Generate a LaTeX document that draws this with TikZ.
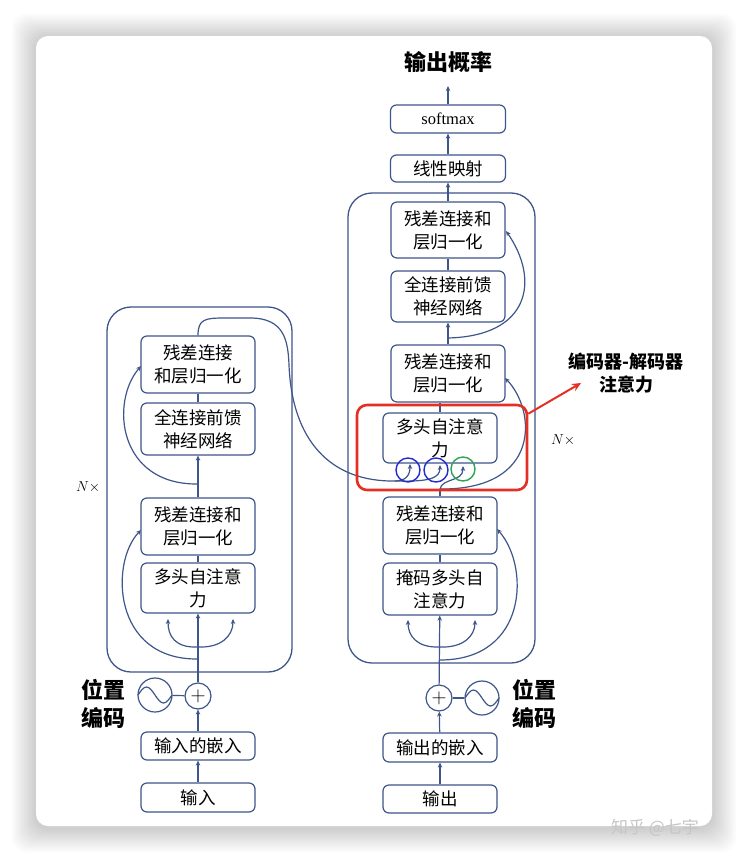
\documentclass[tikz,border=0pt]{standalone}
\usepackage{fontspec}
\setmainfont{Liberation Serif}
\newfontfamily\cjk{Noto Sans CJK SC}
\usetikzlibrary{positioning,calc,arrows.meta}
\definecolor{linec}{RGB}{62,86,138}
\definecolor{qkc}{RGB}{35,45,205}
\definecolor{vc}{RGB}{45,165,85}
\definecolor{redc}{RGB}{228,48,36}
\tikzset{blk/.style={draw=linec,line width=1.2pt,rounded corners=6pt,fill=white,
            minimum width=114pt,align=center,inner sep=0pt,
            font=\cjk\fontsize{17.5}{23}\selectfont},
         conn/.style={draw=linec,line width=1.2pt},
         arr/.style={conn,-{Stealth[length=5pt,width=4.5pt]}},
         stack/.style={draw=linec,line width=1.3pt,rounded corners=24pt},
         ring/.style={circle,draw=linec,line width=1.2pt,fill=white,inner sep=0pt},
         head/.style={circle,line width=1.4pt,minimum size=24pt,inner sep=0pt},
         biglbl/.style={font=\cjk\bfseries\fontsize{22}{28}\selectfont,align=center}
        }

\begin{document}
\begin{tikzpicture}[x=1pt,y=-1pt]
      \useasboundingbox (0,0) rectangle (748,862);
      % 背景
      \fill[white] (0,0) rectangle (748,862);
      \foreach \s in {1,...,12}
        \fill[black,opacity=0.015,rounded corners=14pt] (36-2*\s,36-2*\s+2) rectangle (712+2*\s,826+2*\s+2);
      \fill[white,rounded corners=12pt] (36,36) rectangle (712,826);

      % 外枠
      \node[stack,minimum width=185pt,minimum height=365pt] (enc) at (199.5,489.5) {};
      \node[stack,minimum width=187pt,minimum height=470pt] (dec) at (441.5,428) {};

      % エンコーダ
      \node[blk,minimum height=57pt] (etop) at (198,364.5) {残差连接\\和层归一化};
      \node[blk,minimum height=52pt] (effn) at (198,429) {全连接前馈\\神经网络};
      \node[blk,minimum height=57pt] (eres) at (198,526.5) {残差连接和\\层归一化};
      \node[blk,minimum height=50pt] (emha) at (198,588) {多头自注意\\力};
      \node[blk,minimum height=28pt] (eemb) at (198,746) {输入的嵌入};
      \node[blk,minimum height=29pt] (ein) at (198,797.5) {输入};
      \node[ring,minimum size=26pt] (eplus) at (198,696) {\fontsize{20}{20}\selectfont$+$};
      \node[ring,minimum size=34pt] (esin) at (155,695) {};
      \node[biglbl] (epos) at (103,704) {位置\\编码};
      \node[font=\fontsize{15}{15}\selectfont] (encn) at (88,487) {$N\times$};

      % デコーダ
      \node[blk,minimum height=56pt] (dtop) at (448,230) {残差连接和\\层归一化};
      \node[blk,minimum height=51pt] (dffn) at (448,296.5) {全连接前馈\\神经网络};
      \node[blk,minimum height=57pt] (dmid) at (448,373.5) {残差连接和\\层归一化};
      \node[blk,minimum height=50pt] (dcross) at (440,438) {多头自注意\\力};
      \node[blk,minimum height=57pt] (dres) at (440,525.5) {残差连接和\\层归一化};
      \node[blk,minimum height=52pt] (dmha) at (440,589) {掩码多头自\\注意力};
      \node[blk,minimum height=29pt] (demb) at (440,747.5) {输出的嵌入};
      \node[blk,minimum height=28pt] (dout) at (440,799) {输出};
      \node[blk,minimum height=27pt,minimum width=115pt] (dlin) at (448,168.5) {线性映射};
      \node[blk,minimum height=28pt,minimum width=115pt,font=\fontsize{16.5}{16.5}\selectfont] (dsoft) at (448,119) {softmax};
      \node[biglbl] (prob) at (448,62) {输出概率};
      \node[ring,minimum size=26pt] (dplus) at (439,698) {\fontsize{20}{20}\selectfont$+$};
      \node[ring,minimum size=34pt] (dsin) at (482,698) {};
      \node[biglbl] (dpos) at (534,704) {位置\\编码};
      \node[font=\fontsize{15}{15}\selectfont] (decn) at (563,440) {$N\times$};

      % 正弦波
      \draw[conn] ($(esin)+(-17,0)$) sin ++(8.5,-8) cos ++(8.5,8) sin ++(8.5,8) cos ++(8.5,-8);
      \draw[conn] ($(dsin)+(-17,0)$) sin ++(8.5,-8) cos ++(8.5,8) sin ++(8.5,8) cos ++(8.5,-8);

      % 補助点
      \coordinate (ebr) at (198,647);
      \coordinate (eskip1) at (198,659);
      \coordinate (eskip2) at (198,484);
      \coordinate (esplit) at (395,481);
      \coordinate (dbr) at (440,647);
      \coordinate (dskip1) at (440,660);
      \coordinate (dsplit) at (440,489);
      \coordinate (dskip3) at (448,338);
      \coordinate (qtip) at (410,464);
      \coordinate (ktip) at (440,465);
      \coordinate (vtip) at (463,466);
      \coordinate (probtip) at (448,86);
      \coordinate (rtip) at (581,383);

      % エンコーダの辺
      \draw[arr] (ein) -- (eemb);
      \draw[arr] (eemb) -- (eplus);
      \draw[conn] (esin) -- (eplus);
      \draw[arr] (eplus) -- (emha);
      \draw[arr] (ebr) .. controls (175,648) and (168,636) .. (168,619);
      \draw[arr] (ebr) .. controls (221,648) and (233,636) .. (233,619);
      \draw[arr] (eskip1) .. controls (112,660) and (110,562) .. (141,530);
      \draw[conn] (emha) -- (eres);
      \draw[arr] (eres) -- (effn);
      \draw[arr] (eskip2) .. controls (118,485) and (110,402) .. (141,366);
      \draw[conn] (effn) -- (etop);
      \draw[conn] (etop.north) .. controls (198,319) and (205,318) .. (225,318) -- (250,318)
            .. controls (284,318) and (288,340) .. (289,365)
            .. controls (292,440) and (330,482) .. (esplit);

      % デコーダの辺
      \draw[arr] (dout) -- (demb);
      \draw[arr] (demb) -- (dplus);
      \draw[conn] (dsin) -- (dplus);
      \draw[arr] (dplus) -- (dmha);
      \draw[arr] (dbr) .. controls (417,648) and (408,636) .. (408,620);
      \draw[arr] (dbr) .. controls (463,648) and (475,636) .. (475,620);
      \draw[arr] (dskip1) .. controls (528,660) and (530,566) .. (497,529);
      \draw[conn] (dmha) -- (dres);
      \draw[conn] (dres.north) -- (dsplit);
      \draw[arr] (dsplit) .. controls (442,478) and (463,482) .. (vtip);
      \draw[arr] (dsplit) .. controls (542,490) and (536,410) .. (505,378);
      \draw[arr] (esplit) .. controls (405,481) and (410,476) .. (qtip);
      \draw[arr] (esplit) .. controls (430,482) and (440,478) .. (ktip);
      \draw[conn] (dcross.north) -- (dcross.north |- dmid.south);
      \draw[arr] (dmid) -- (dffn);
      \draw[arr] (dskip3) .. controls (530,336) and (540,280) .. (506,231);
      \draw[conn] (dffn) -- (dtop);
      \draw[arr] (dtop) -- (dlin);
      \draw[arr] (dlin) -- (dsoft);
      \draw[arr] (dsoft) -- (probtip);

      % Q, K, V
      \node[head,draw=qkc] (qh) at (408,470) {};
      \node[head,draw=qkc] (kh) at (436,470) {};
      \node[head,draw=vc] (vh) at (463,469) {};

      % 交差注意の強調
      \node[draw=redc,line width=2.6pt,rounded corners=10pt,minimum width=170pt,minimum height=85pt] (rbox) at (442,447.5) {};
      \draw[redc,line width=2pt,-{Stealth[length=9pt,width=8pt]}] ($(rbox.north east)+(0,10)$) -- (rtip);
      \node[font=\cjk\bfseries\fontsize{18}{23}\selectfont,align=center] (crosslbl) at (626,373) {编码器-解码器\\注意力};

      % 透かし
      \node[text=gray!45,font=\cjk\fontsize{17}{17}\selectfont] (wm) at (655,828) {知乎 @七宇};
    \end{tikzpicture}
\end{document}
